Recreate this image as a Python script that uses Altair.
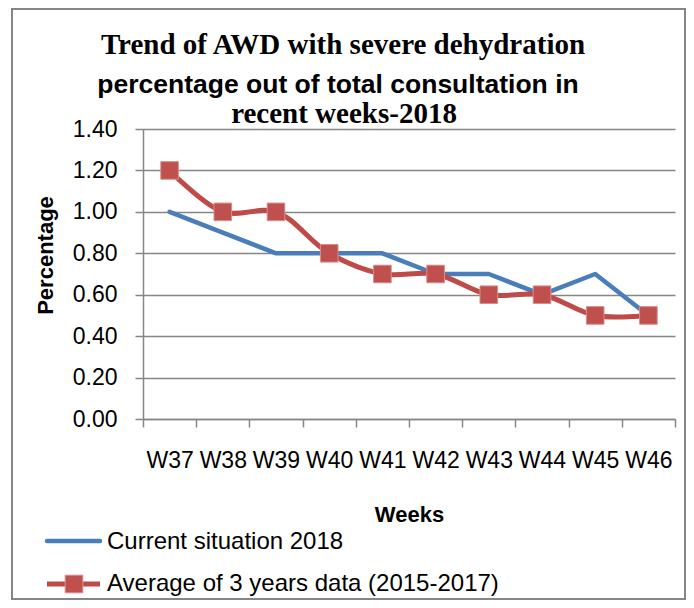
import altair as alt
import pandas as pd

# ---- data ----
weeks = ["W37", "W38", "W39", "W40", "W41", "W42", "W43", "W44", "W45", "W46"]
current_2018 = [1.0, 0.9, 0.8, 0.8, 0.8, 0.7, 0.7, 0.6, 0.7, 0.5]
avg_2015_2017 = [1.2, 1.0, 1.0, 0.8, 0.7, 0.7, 0.6, 0.6, 0.5, 0.5]
y_ticks = [0.0, 0.2, 0.4, 0.6, 0.8, 1.0, 1.2, 1.4]
series_names = ["Current situation 2018", "Average of 3 years data (2015-2017)"]
title_lines = [
    "Trend of AWD with severe dehydration",
    "percentage out of total consultation in",
    "recent weeks-2018",
]
x_title = "Weeks"
y_title = "Percentage"

BLUE = "#4A7EBB"
RED = "#BE4B48"
GRAY = "#868686"
SANS = "Liberation Sans"
SERIF = "Liberation Serif"

df = pd.DataFrame({"week": weeks, "current": current_2018, "average": avg_2015_2017})

x_enc = alt.X(
    "week:N",
    sort=weeks,
    scale=alt.Scale(type="band", paddingInner=0, paddingOuter=0),
    bandPosition=0.5,
    axis=alt.Axis(
        title=x_title,
        grid=False,
        tickBand="extent",
        labelAngle=0,
        labelPadding=22,
        labelOverlap=False,
        titlePadding=32,
    ),
)

def y_enc(field):
    return alt.Y(
        f"{field}:Q",
        scale=alt.Scale(domain=[0, 1.4], nice=False, zero=True),
        axis=alt.Axis(
            title=y_title,
            values=y_ticks,
            format=".2f",
            grid=True,
            labelPadding=18,
            titleX=-98,
            titleY=126,
            titleAngle=-90,
            titleBaseline="middle",
            titleAlign="center",
        ),
    )

base = alt.Chart(df)

blue_line = base.mark_line(color=BLUE, strokeWidth=4.5, strokeJoin="round", strokeCap="round").encode(
    x=x_enc, y=y_enc("current")
)
red_line = base.mark_line(color=RED, strokeWidth=5, interpolate="catmull-rom").encode(
    x=x_enc, y=y_enc("average")
)
red_pts = base.mark_point(
    shape="square", filled=True, size=310, color="#C0504D", stroke="#D78E8C", strokeWidth=1, opacity=1
).encode(x=x_enc, y=y_enc("average"))

# outer frame
frame = alt.Chart(pd.DataFrame({"b": [0]})).mark_rect(
    fillOpacity=0, stroke=GRAY, strokeWidth=2
).encode(x=alt.value(-131), x2=alt.value(542), y=alt.value(-120), y2=alt.value(470))

# title lines
title_specs = [
    (SERIF, 29, 200, -75),
    (SANS, 26.5, 195, -36),
    (SERIF, 29, 201, -6),
]
title_layers = []
for line, (font, size, tx, ty) in zip(title_lines, title_specs):
    title_layers.append(
        alt.Chart(pd.DataFrame({"t": [line]})).mark_text(
            font=font, fontSize=size, fontWeight="bold", align="center", baseline="alphabetic", color="black"
        ).encode(x=alt.value(tx), y=alt.value(ty), text="t:N")
    )

# manual legend
leg_blue = alt.Chart(pd.DataFrame({"n": [series_names[0]]})).mark_rule(
    color=BLUE, strokeWidth=4.5, strokeCap="round"
).encode(x=alt.value(-96), x2=alt.value(-43), y=alt.value(412))
leg_red = alt.Chart(pd.DataFrame({"n": [series_names[1]]})).mark_rule(
    color=RED, strokeWidth=5
).encode(x=alt.value(-96), x2=alt.value(-43), y=alt.value(455))
leg_red_pt = alt.Chart(pd.DataFrame({"n": [series_names[1]]})).mark_point(
    shape="square", filled=True, size=310, color="#C0504D", stroke="#D78E8C", strokeWidth=1, opacity=1
).encode(x=alt.value(-69), y=alt.value(455))
leg_text1 = alt.Chart(pd.DataFrame({"n": [series_names[0]]})).mark_text(
    font=SANS, fontSize=24, align="left", baseline="middle", color="black"
).encode(x=alt.value(-36), y=alt.value(413), text="n:N")
leg_text2 = alt.Chart(pd.DataFrame({"n": [series_names[1]]})).mark_text(
    font=SANS, fontSize=24, align="left", baseline="middle", color="black"
).encode(x=alt.value(-36), y=alt.value(455), text="n:N")

chart = alt.layer(
    frame, blue_line, red_line, red_pts, *title_layers,
    leg_blue, leg_red, leg_red_pt, leg_text1, leg_text2,
).properties(
    width=532,
    height=290,
    padding={"left": 135, "top": 121, "right": 11, "bottom": 181},
    autosize=alt.AutoSizeParams(type="none"),
    background="white",
).configure_view(
    strokeWidth=0
).configure_axis(
    gridColor=GRAY,
    gridWidth=1.5,
    domainColor=GRAY,
    domainWidth=1.5,
    tickColor=GRAY,
    tickWidth=1.5,
    tickSize=8,
    labelFont=SANS,
    labelFontSize=23,
    labelColor="black",
    titleFont=SANS,
    titleFontSize=22,
    titleFontWeight="bold",
    titleColor="black",
)

chart.save("out.html", embed_options={"renderer": "svg", "actions": False})
